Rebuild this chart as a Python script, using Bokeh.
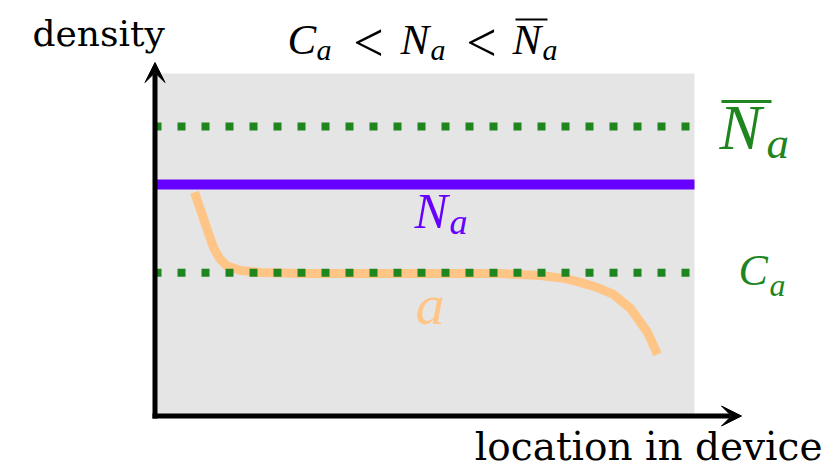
from bokeh.plotting import figure
from bokeh.models import Range1d, Arrow, VeeHead
from bokeh.core.properties import value
from bokeh.embed import file_html
from bokeh.resources import INLINE

# ---------------- data ----------------
# device extent (location) and density extent of the shaded region
location_extent = [0.0, 10.0]
density_extent = [0.0, 10.0]

# reference levels
C_a = 4.18      # lower dotted level
N_a = 6.76      # solid level
N_bar_a = 8.45  # upper dotted level

# profile a(location)
location_a = [0.732, 0.862, 0.973, 1.084, 1.196, 1.325, 1.585, 1.955, 2.697,
              4.551, 6.404, 7.146, 7.609, 7.887, 8.202, 8.499, 8.814, 9.129, 9.314]
density_a = [6.53, 5.94, 5.42, 4.92, 4.60, 4.39, 4.25, 4.19, 4.16,
             4.16, 4.16, 4.10, 4.01, 3.90, 3.75, 3.55, 3.14, 2.44, 1.80]

x_label = "location in device"
y_label = "density"

# ---------------- styling / layout ----------------
FONT = "DejaVu Serif"
MATH = "Liberation Serif"
GREY = "#e5e5e5"
GREEN = "#1f851f"
PURPLE = "#6600ff"
ORANGE = "#ffc587"

W, H = 840, 468
# picture-pixel geometry of the shaded box
BOX_L, BOX_R, BOX_T, BOX_B = 154.5, 694.0, 73.0, 415.5
kx = (BOX_R - BOX_L) / (location_extent[1] - location_extent[0])
ky = (BOX_B - BOX_T) / (density_extent[1] - density_extent[0])
x_start = location_extent[0] - BOX_L / kx
x_end = x_start + W / kx
y_end = density_extent[1] + BOX_T / ky
y_start = y_end - H / ky


def X(px):
    return location_extent[0] + (px - BOX_L) / kx


def Y(py):
    return density_extent[0] + (BOX_B - py) / ky


p = figure(width=W, height=H, output_backend="svg", toolbar_location=None,
           x_range=Range1d(x_start, x_end), y_range=Range1d(y_start, y_end),
           x_axis_type=None, y_axis_type=None, min_border=0)
p.outline_line_color = None
p.background_fill_color = "white"
p.border_fill_color = "white"
p.grid.visible = False

# shaded device region
p.quad(left=[location_extent[0]], right=[location_extent[1]],
       bottom=[density_extent[0]], top=[density_extent[1]],
       fill_color=GREY, line_color=None)

# profile a
p.line(location_a, density_a, line_width=9, line_color=ORANGE, line_join="round")

# dotted levels
p.line([X(153), location_extent[1]], [N_bar_a, N_bar_a], line_width=8,
       line_color=GREEN, line_dash="8 16")
p.line([X(153), location_extent[1]], [C_a, C_a], line_width=8,
       line_color=GREEN, line_dash="8 16")

# solid level
p.line([location_extent[0], location_extent[1]], [N_a, N_a], line_width=10,
       line_color=PURPLE)

# axes arrows
p.add_layout(Arrow(x_start=X(154.5), y_start=Y(418), x_end=X(154.5), y_end=Y(62),
                   line_width=5, line_color="black",
                   end=VeeHead(size=20, fill_color="black", line_color="black", line_width=1)))
p.add_layout(Arrow(x_start=X(152), y_start=Y(415.5), x_end=X(741), y_end=Y(415.5),
                   line_width=5, line_color="black",
                   end=VeeHead(size=20, fill_color="black", line_color="black", line_width=1)))

BASE_SHIFT = 0.33  # empirical baseline correction (in em)


def txt(px, py, s, size, color="black", style="normal", align="left", font=MATH):
    p.text(x=[X(px)], y=[Y(py - BASE_SHIFT * size)], text=[s], text_font=value(font),
           text_font_size=value(f"{size}px"), text_font_style=style,
           text_color=color, text_align=align, text_baseline="alphabetic")


# axis labels
txt(32, 45, y_label, 36, font=FONT)
txt(822, 459, x_label, 39, align="right", font=FONT)

# title  C_a < N_a < N̄_a
txt(287, 53, "C", 43, style="italic")
txt(316, 59, "a", 30, style="italic")
txt(368, 60, "<", 54, align="center")
txt(400, 53, "N", 43, style="italic")
txt(430, 59, "a", 30, style="italic")
txt(481, 60, "<", 54, align="center")
txt(512, 53, "N", 43, style="italic")
txt(542, 59, "a", 30, style="italic")
p.segment(x0=[X(515)], y0=[Y(19)], x1=[X(547)], y1=[Y(19)], line_width=2, line_color="black")

# level labels
txt(719, 148, "N", 63, color=GREEN, style="italic")
txt(766, 157, "a", 45, color=GREEN, style="italic")
p.segment(x0=[X(721)], y0=[Y(101)], x1=[X(771)], y1=[Y(101)], line_width=3, line_color=GREEN)

txt(738, 285, "C", 44, color=GREEN, style="italic")
txt(769, 295, "a", 32, color=GREEN, style="italic")

txt(414, 227, "N", 50, color=PURPLE, style="italic")
txt(449, 233, "a", 36, color=PURPLE, style="italic")

txt(415, 323, "a", 58, color=ORANGE, style="italic")

open("out.html", "w").write(file_html(p, INLINE))
